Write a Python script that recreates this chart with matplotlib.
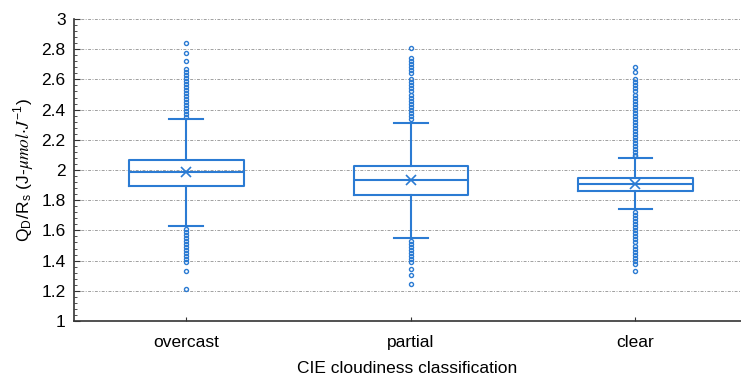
import matplotlib.pyplot as plt
from matplotlib.ticker import MultipleLocator

plt.rcParams['font.family'] = ['Liberation Sans', 'DejaVu Sans']
plt.rcParams['mathtext.fontset'] = 'stix'

# cloudiness classes and box summary values
categories = ['overcast', 'partial', 'clear']
q1 = [1.894, 1.836, 1.863]
medians = [1.985, 1.932, 1.905]
q3 = [2.066, 2.029, 1.945]
means = [1.985, 1.934, 1.907]
whis_lo = [1.627, 1.550, 1.740]
whis_hi = [2.336, 2.313, 2.077]

# outlying ratios per class
fliers_overcast = [2.843, 2.777, 2.722, 2.669, 2.65, 2.63, 2.61, 2.59, 2.57, 2.55,
                   2.53, 2.51, 2.49, 2.47, 2.45, 2.43, 2.41, 2.39, 2.37, 2.35,
                   1.61, 1.59, 1.57, 1.55, 1.53, 1.51, 1.49, 1.47, 1.45, 1.43,
                   1.41, 1.39, 1.331, 1.212]
fliers_partial = [2.806, 2.74, 2.72, 2.70, 2.68, 2.66, 2.64, 2.60, 2.58, 2.56,
                  2.54, 2.52, 2.50, 2.48, 2.46, 2.44, 2.42, 2.40, 2.38, 2.36,
                  2.34, 1.53, 1.51, 1.49, 1.47, 1.45, 1.43, 1.41, 1.39, 1.342,
                  1.305, 1.247]
fliers_clear = [2.684, 2.651, 2.60, 2.58, 2.56, 2.54, 2.52, 2.50, 2.48, 2.46,
                2.44, 2.42, 2.40, 2.38, 2.36, 2.34, 2.32, 2.30, 2.28, 2.26,
                2.24, 2.22, 2.20, 2.18, 2.16, 2.14, 2.12, 2.10, 2.09,
                1.72, 1.70, 1.68, 1.66, 1.64, 1.62, 1.60, 1.58, 1.56, 1.54,
                1.52, 1.50, 1.48, 1.46, 1.44, 1.42, 1.40, 1.38, 1.333]
fliers = [fliers_overcast, fliers_partial, fliers_clear]

stats = []
for i, name in enumerate(categories):
    stats.append({'label': name, 'q1': q1[i], 'med': medians[i], 'q3': q3[i],
                  'mean': means[i], 'whislo': whis_lo[i], 'whishi': whis_hi[i],
                  'fliers': fliers[i]})

blue = '#2b7bd3'
fig = plt.figure(figsize=(7.41, 3.78), dpi=100)
ax = fig.add_axes([0.0999, 0.1508, 0.9001, 0.7989])

line = dict(color=blue, linewidth=1.5)
ax.bxp(stats, positions=[1, 2, 3], widths=0.51, capwidths=0.15,
       showmeans=True, showfliers=True,
       boxprops=line, whiskerprops=line, capprops=line, medianprops=line,
       meanprops=dict(marker='x', markeredgecolor=blue, markersize=6.5,
                      markeredgewidth=1.2),
       flierprops=dict(marker='o', markerfacecolor='none', markeredgecolor=blue,
                       markersize=2.9, markeredgewidth=1.0))

ax.set_xlim(0.5, 3.47)
ax.set_ylim(1, 3)
ax.yaxis.set_major_locator(MultipleLocator(0.2))
ax.yaxis.set_minor_locator(MultipleLocator(0.04))
ax.set_yticks([1, 1.2, 1.4, 1.6, 1.8, 2, 2.2, 2.4, 2.6, 2.8, 3],
              ['1', '1.2', '1.4', '1.6', '1.8', '2', '2.2', '2.4', '2.6', '2.8', '3'])
ax.grid(axis='y', color='#a0a0a0', linewidth=0.7, linestyle=(0, (3, 1.5, 1, 1.5)))
ax.set_axisbelow(True)

for side in ['top', 'right']:
    ax.spines[side].set_visible(False)
for side in ['left', 'bottom']:
    ax.spines[side].set_color('#333333')
    ax.spines[side].set_linewidth(1.2)

ax.tick_params(axis='y', which='major', direction='in', length=4, labelsize=12.5,
               color='#333333', pad=6)
ax.tick_params(axis='y', which='minor', direction='in', length=2.5, color='#333333')
ax.tick_params(axis='x', direction='in', length=3, labelsize=12.5, pad=10,
               color='#333333')

ax.set_xlabel('CIE cloudiness classification', fontsize=12.5, labelpad=8)
ax.set_ylabel(r'Q$_\mathregular{D}$/R$_\mathregular{s}$ (J-$\mu mol{\cdot}J^{\mathregular{-1}}$)',
              fontsize=12.5, labelpad=4)

plt.savefig('out.png', dpi=100)
